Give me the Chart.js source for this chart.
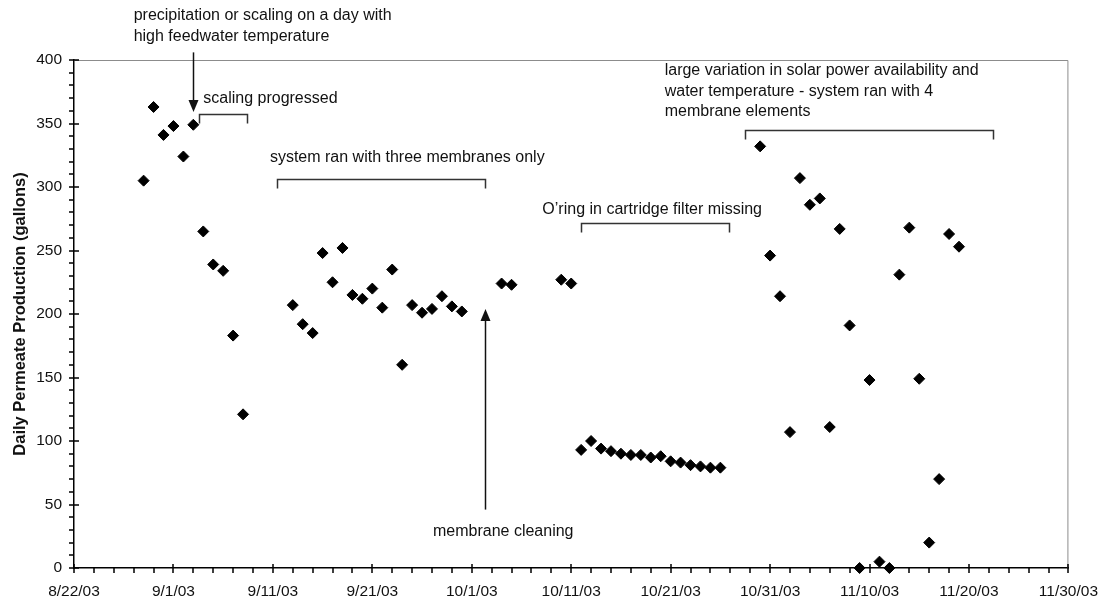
<!DOCTYPE html>
<html>
<head>
<meta charset="utf-8">
<script src="https://cdn.jsdelivr.net/npm/chart.js@4.4.1/dist/chart.umd.min.js"></script>
<style>
html, body { margin: 0; padding: 0; background: #fff; }
</style>
</head>
<body>
<canvas id="permeateChart" width="1112" height="602"></canvas>
<script>
// sampling days (2003) and daily permeate production in gallons
var dates = [
	'8/29', '8/30', '8/31', '9/1', '9/2', '9/3', '9/4', '9/5', '9/6', '9/7', '9/8',
	'9/13', '9/14', '9/15', '9/16', '9/17', '9/18', '9/19', '9/20', '9/21', '9/22',
	'9/23', '9/24', '9/25', '9/26', '9/27', '9/28', '9/29', '9/30',
	'10/4', '10/5', '10/10', '10/11',
	'10/12', '10/13', '10/14', '10/15', '10/16', '10/17', '10/18', '10/19', '10/20',
	'10/21', '10/22', '10/23', '10/24', '10/25', '10/26',
	'10/30', '10/31', '11/1', '11/2', '11/3', '11/4', '11/5', '11/6', '11/7', '11/8',
	'11/9', '11/10', '11/11', '11/12', '11/13', '11/14', '11/15', '11/16', '11/17',
	'11/18', '11/19'
];
var gallons = [
	305, 363, 341, 348, 324, 349, 265, 239, 234, 183, 121,
	207, 192, 185, 248, 225, 252, 215, 212, 220, 205,
	235, 160, 207, 201, 204, 214, 206, 202,
	224, 223, 227, 224,
	93, 100, 94, 92, 90, 89, 89, 87, 88,
	84, 83, 81, 80, 79, 79,
	332, 246, 214, 107, 307, 286, 291, 111, 267, 191,
	0, 148, 5, 0, 231, 268, 149, 20, 70,
	263, 253
];
var xTickLabels = ['8/22/03', '9/1/03', '9/11/03', '9/21/03', '10/1/03', '10/11/03',
	'10/21/03', '10/31/03', '11/10/03', '11/20/03', '11/30/03'];
var yTickValues = [0, 50, 100, 150, 200, 250, 300, 350, 400];

var startDate = Date.UTC(2003, 7, 22);
function dayOf(s) {
	var p = s.split('/');
	return (Date.UTC(2003, +p[0] - 1, +p[1]) - startDate) / 86400000;
}

// notes placed in (day, gallons) space
var noteTexts = [
	{ text: 'precipitation or scaling on a day with', day: 6.0, value: 435 },
	{ text: 'high feedwater temperature', day: 6.0, value: 418.5 },
	{ text: 'scaling progressed', day: 13.0, value: 370 },
	{ text: 'system ran with three membranes only', day: 19.7, value: 323 },
	{ text: 'membrane cleaning', day: 36.1, value: 28.5 },
	{ text: 'O\u2019ring in cartridge filter missing', day: 47.1, value: 282 },
	{ text: 'large variation in solar power availability and', day: 59.4, value: 392 },
	{ text: 'water temperature - system ran with 4', day: 59.4, value: 375.5 },
	{ text: 'membrane elements', day: 59.4, value: 359 }
];
var noteArrows = [
	{ day: 12, from: 406, to: 359 },
	{ day: 41.3, from: 46, to: 204 }
];
var noteBrackets = [
	{ from: 12.6, to: 17.4, value: 357.5 },
	{ from: 20.4, to: 41.3, value: 306.5 },
	{ from: 51.0, to: 65.9, value: 272 },
	{ from: 67.5, to: 92.4, value: 345 }
];

var fontFamily = '"Liberation Sans", Arial, sans-serif';

var axisMarks = {
	id: 'axisMarks',
	beforeDatasetsDraw: function(chart) {
		var ctx = chart.ctx, a = chart.chartArea;
		ctx.save();
		ctx.strokeStyle = '#8c8c8c';
		ctx.lineWidth = 1;
		ctx.beginPath();
		ctx.moveTo(a.left, a.top + 0.5);
		ctx.lineTo(a.right - 0.5, a.top + 0.5);
		ctx.lineTo(a.right - 0.5, a.bottom);
		ctx.stroke();
		ctx.restore();
	},
	afterDraw: function(chart) {
		var ctx = chart.ctx, a = chart.chartArea;
		var x = chart.scales.x, y = chart.scales.y;
		ctx.save();
		ctx.strokeStyle = '#000';
		ctx.lineWidth = 1.5;
		ctx.beginPath();
		for (var d = x.min; d <= x.max; d += 2) {
			var px = Math.round(x.getPixelForValue(d));
			var major = d % 10 === 0;
			ctx.moveTo(px, major ? a.bottom - 4 : a.bottom);
			ctx.lineTo(px, a.bottom + 5);
		}
		for (var v = y.min; v <= y.max; v += 10) {
			var py = Math.round(y.getPixelForValue(v));
			var majorY = v % 50 === 0;
			ctx.moveTo(a.left - 5, py);
			ctx.lineTo(majorY ? a.left + 5 : a.left, py);
		}
		ctx.stroke();
		ctx.restore();
	}
};

var notes = {
	id: 'notes',
	afterDatasetsDraw: function(chart) {
		var ctx = chart.ctx;
		var x = chart.scales.x, y = chart.scales.y;
		ctx.save();
		ctx.fillStyle = '#111';
		ctx.font = '16px ' + fontFamily;
		ctx.textAlign = 'left';
		ctx.textBaseline = 'middle';
		noteTexts.forEach(function(n) {
			ctx.fillText(n.text, x.getPixelForValue(n.day), y.getPixelForValue(n.value));
		});

		ctx.strokeStyle = '#333';
		ctx.lineWidth = 1.5;
		noteBrackets.forEach(function(b) {
			var x0 = Math.round(x.getPixelForValue(b.from)) + 0.5;
			var x1 = Math.round(x.getPixelForValue(b.to)) + 0.5;
			var yy = Math.round(y.getPixelForValue(b.value)) + 0.5;
			ctx.beginPath();
			ctx.moveTo(x0, yy + 9);
			ctx.lineTo(x0, yy);
			ctx.lineTo(x1, yy);
			ctx.lineTo(x1, yy + 9);
			ctx.stroke();
		});

		ctx.strokeStyle = '#111';
		ctx.fillStyle = '#111';
		noteArrows.forEach(function(ar) {
			var px = Math.round(x.getPixelForValue(ar.day)) + 0.5;
			var y0 = y.getPixelForValue(ar.from);
			var y1 = y.getPixelForValue(ar.to);
			var dir = y1 > y0 ? 1 : -1;
			ctx.beginPath();
			ctx.moveTo(px, y0);
			ctx.lineTo(px, y1 - dir * 10);
			ctx.stroke();
			ctx.beginPath();
			ctx.moveTo(px, y1);
			ctx.lineTo(px - 5, y1 - dir * 12);
			ctx.lineTo(px + 5, y1 - dir * 12);
			ctx.closePath();
			ctx.fill();
		});
		ctx.restore();
	}
};

var points = dates.map(function(d, i) {
	return { x: dayOf(d), y: gallons[i] };
});

var ctx = document.getElementById('permeateChart');
var chart = new Chart(ctx, {
	type: 'scatter',
	data: {
		datasets: [{
			data: points,
			pointStyle: 'rectRot',
			pointRadius: 5.5,
			backgroundColor: '#000',
			borderColor: '#000',
			borderWidth: 1,
			clip: false
		}]
	},
	options: {
		responsive: false,
		animation: false,
		layout: { padding: { top: 60, right: 39, left: 0, bottom: 0 } },
		plugins: {
			legend: { display: false },
			tooltip: { enabled: false }
		},
		scales: {
			x: {
				type: 'linear',
				min: 0,
				max: 100,
				grid: { display: false, drawTicks: false },
				border: { color: '#000', width: 1.5 },
				ticks: {
					stepSize: 10,
					autoSkip: false,
					maxRotation: 0,
					padding: 14,
					color: '#111',
					font: { family: fontFamily, size: 15.5 },
					callback: function(v) { return xTickLabels[v / 10]; }
				},
				afterFit: function(scale) { scale.height = 34; }
			},
			y: {
				min: 0,
				max: 400,
				grid: { display: false, drawTicks: false },
				border: { color: '#000', width: 1.5 },
				ticks: {
					stepSize: 50,
					padding: 12,
					color: '#111',
					font: { family: fontFamily, size: 15.5 },
					callback: function(v) { return yTickValues.indexOf(v) >= 0 ? v : ''; }
				},
				title: {
					display: true,
					text: 'Daily Permeate Production (gallons)',
					color: '#111',
					font: { family: fontFamily, size: 16.5, weight: 'bold' },
					padding: { top: 11, bottom: 0 }
				},
				afterFit: function(scale) { scale.width = 74; }
			}
		}
	},
	plugins: [axisMarks, notes]
});
</script>
</body>
</html>
